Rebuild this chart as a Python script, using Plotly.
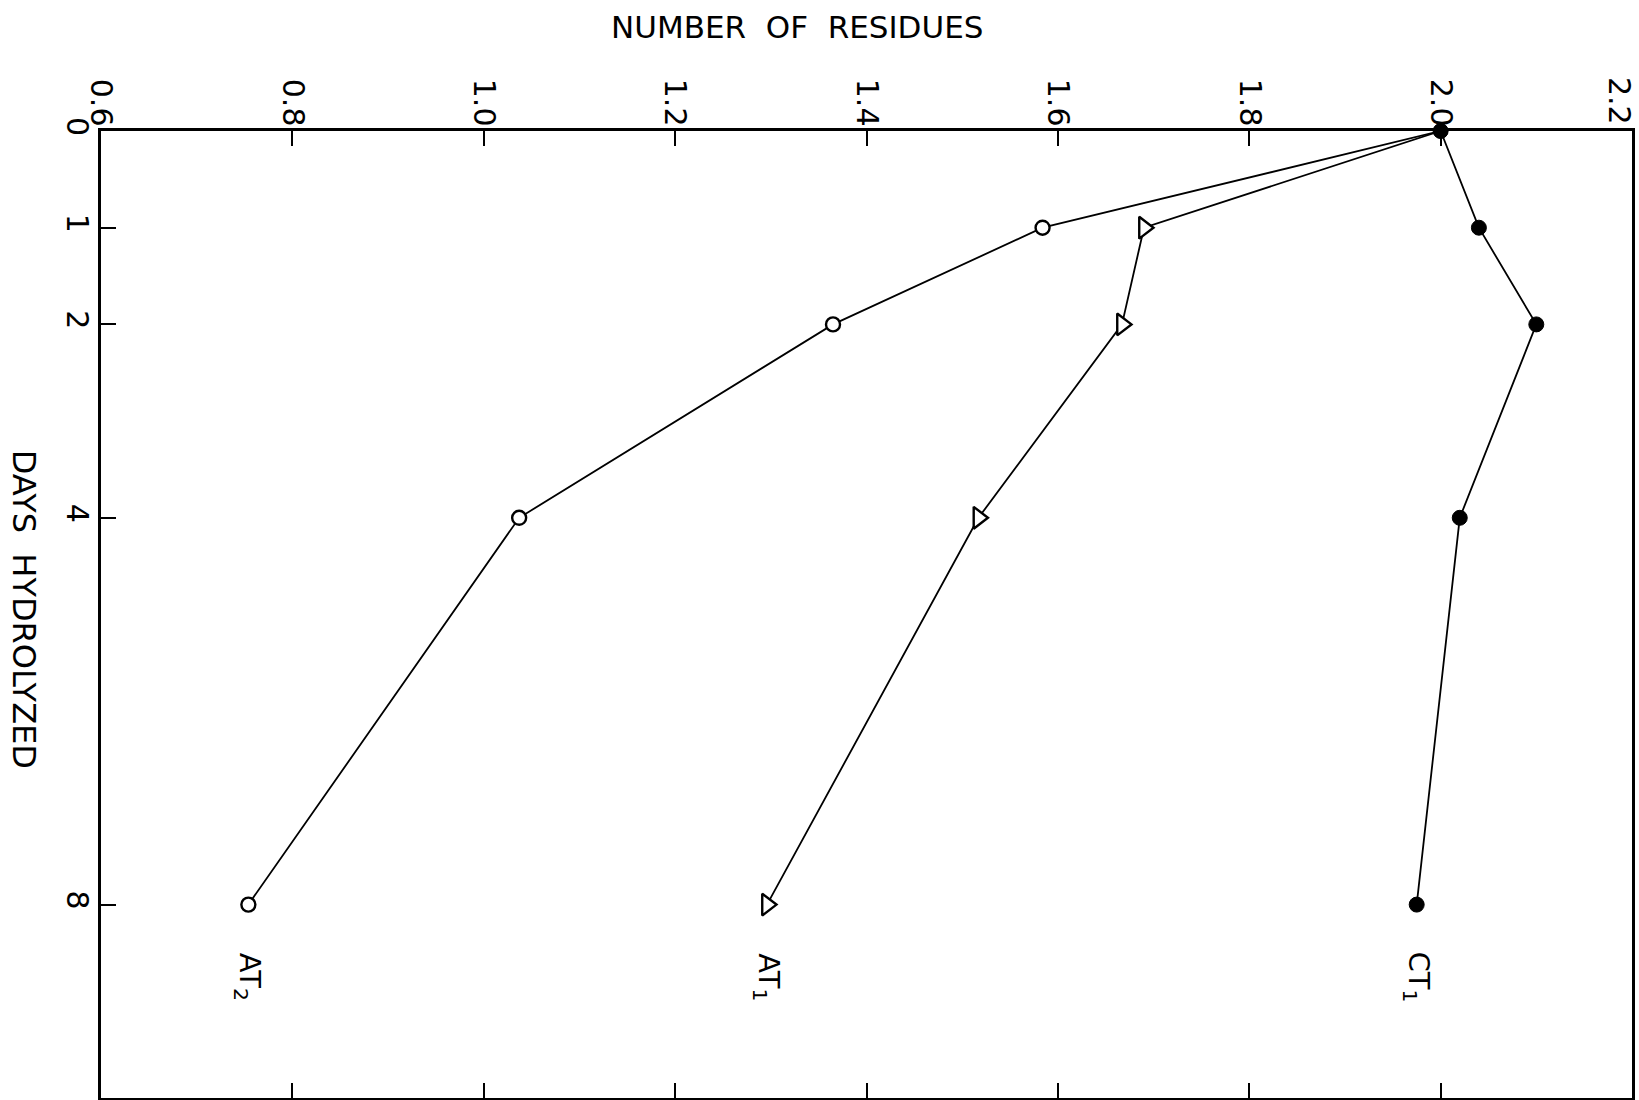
import plotly.graph_objects as go

days = [0, 1, 2, 4, 8]
ct1 = [2.0, 2.04, 2.10, 2.02, 1.975]
at1 = [2.0, 1.69, 1.667, 1.517, 1.296]
at2 = [2.0, 1.584, 1.365, 1.037, 0.754]

x_ticks = [0.6, 0.8, 1.0, 1.2, 1.4, 1.6, 1.8, 2.0, 2.2]
x_labels = ["0.6", "0.8", "1.0", "1.2", "1.4", "1.6", "1.8", "2.0", "2.2"]
y_ticks = [0, 1, 2, 4, 8]
y_labels = ["0", "1", "2", "4", "8"]

series_labels = ["CT<sub>1</sub>", "AT<sub>1</sub>", "AT<sub>2</sub>"]
label_day = 8.75

FONT = "DejaVu Sans"
BLACK = "#000000"

fig = go.Figure()

fig.add_trace(go.Scatter(
    x=ct1, y=days, mode="lines+markers", cliponaxis=False,
    line=dict(color=BLACK, width=1.8),
    marker=dict(symbol="circle", size=15, color=BLACK, line=dict(color=BLACK, width=1)),
    showlegend=False))
fig.add_trace(go.Scatter(
    x=at1, y=days, mode="lines+markers", cliponaxis=False,
    line=dict(color=BLACK, width=1.8),
    marker=dict(symbol="triangle-right", size=[0, 19, 19, 19, 19], color="#ffffff",
                opacity=1, line=dict(color=BLACK, width=2.4)),
    showlegend=False))
fig.add_trace(go.Scatter(
    x=at2, y=days, mode="lines+markers", cliponaxis=False,
    line=dict(color=BLACK, width=1.8),
    marker=dict(symbol="circle", size=[0, 14, 14, 14, 14], color="#ffffff",
                opacity=1, line=dict(color=BLACK, width=2.4)),
    showlegend=False))

# re-draw the day-0 filled point on top
fig.add_trace(go.Scatter(
    x=[ct1[0]], y=[days[0]], mode="markers", cliponaxis=False,
    marker=dict(symbol="circle", size=15, color=BLACK),
    showlegend=False, hoverinfo="skip"))

for txt, xs in zip(series_labels, [ct1, at1, at2]):
    fig.add_annotation(x=xs[-1], y=label_day, xref="x", yref="y", text=txt,
                       showarrow=False, textangle=90,
                       font=dict(family=FONT, size=29, color=BLACK))

fig.add_annotation(x=0.4546, y=1.1075, xref="paper", yref="paper",
                   text="NUMBER  OF  RESIDUES", showarrow=False,
                   xanchor="center", yanchor="middle",
                   font=dict(family=FONT, size=31, color=BLACK))
fig.add_annotation(x=-0.0503, y=0.505, xref="paper", yref="paper",
                   text="DAYS  HYDROLYZED", showarrow=False, textangle=90,
                   xanchor="center", yanchor="middle",
                   font=dict(family=FONT, size=32, color=BLACK))

# the last x tick label sits just inside the right frame, as in the original
fig.add_annotation(x=x_ticks[-1], y=1.0, xref="x", yref="paper",
                   text=x_labels[-1], showarrow=False, textangle=90,
                   xanchor="center", yanchor="bottom", xshift=-12, yshift=4,
                   font=dict(family=FONT, size=30, color=BLACK))

fig.update_xaxes(
    range=[0.6, 2.2], side="top", tickvals=x_ticks[:-1], ticktext=x_labels[:-1],
    tickangle=90, ticks="inside", ticklen=15, tickwidth=2, tickcolor=BLACK,
    showline=True, linewidth=3, linecolor=BLACK, mirror="ticks",
    showgrid=False, zeroline=False, ticklabelstandoff=-9, automargin=False,
    tickfont=dict(family=FONT, size=30, color=BLACK))
fig.update_yaxes(
    range=[10, 0], tickvals=y_ticks, ticktext=y_labels,
    tickangle=90, ticks="inside", ticklen=15, tickwidth=2, tickcolor=BLACK,
    showline=True, linewidth=3, linecolor=BLACK, mirror=True,
    showgrid=False, zeroline=False, ticklabelstandoff=-5, automargin=False,
    tickfont=dict(family=FONT, size=30, color=BLACK))

fig.update_layout(
    width=1639, height=1100, autosize=False,
    margin=dict(l=101, r=7, t=131, b=2),
    plot_bgcolor="white", paper_bgcolor="white",
    font=dict(family=FONT, color=BLACK))

fig.write_html(
    "out.html",
    config={"displayModeBar": False, "responsive": False},
    post_script=("document.body.style.margin='0';"
                 "document.documentElement.style.overflow='hidden';"
                 "document.body.style.overflow='hidden';"))
